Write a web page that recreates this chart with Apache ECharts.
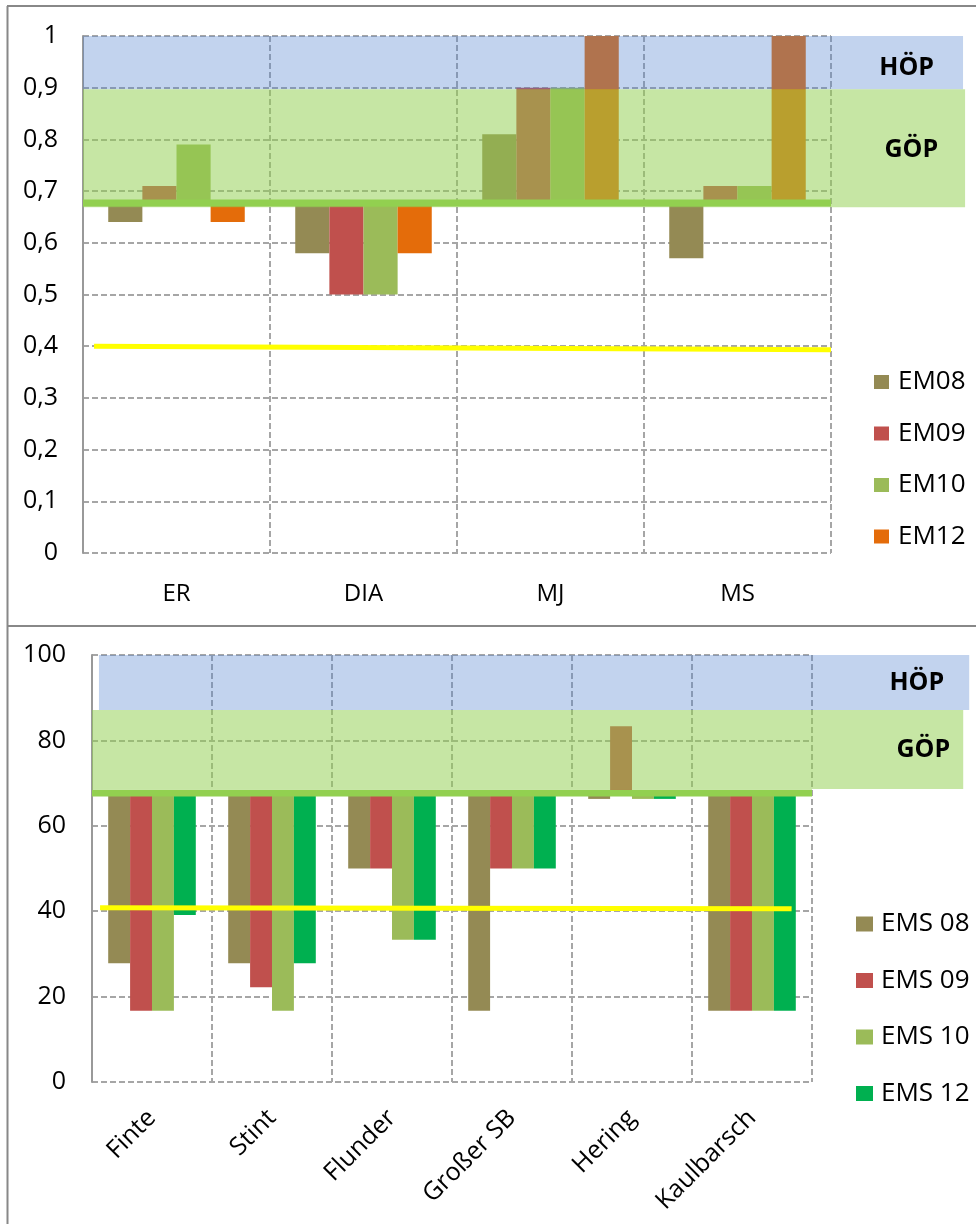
<!DOCTYPE html>
<html>
<head>
<meta charset="utf-8">
<script src="https://cdn.jsdelivr.net/npm/echarts@6/dist/echarts.min.js"></script>
<style>
html, body { margin: 0; padding: 0; background: #fff; }
#main { width: 976px; height: 1224px; }
</style>
</head>
<body>
<div id="main"></div>
<script>
// ---- upper chart data ----
var TOP_CATS = ['ER', 'DIA', 'MJ', 'MS'];
var TOP_NAMES = ['EM08', 'EM09', 'EM10', 'EM12'];
var TOP_EM08 = [0.64, 0.58, 0.81, 0.57];
var TOP_EM09 = [0.71, 0.50, 0.90, 0.71];
var TOP_EM10 = [0.79, 0.50, 0.90, 0.71];
var TOP_EM12 = [0.64, 0.58, 1.00, 1.00];
var TOP_BASE = 0.677;          // bars start from this level
var TOP_HOP = [0.897, 1.0];    // blue band
var TOP_GOP = [0.669, 0.897];  // green band
var TOP_YELLOW = [0.400, 0.393];

// ---- lower chart data ----
var BOT_CATS = ['Finte', 'Stint', 'Flunder', 'Großer SB', 'Hering', 'Kaulbarsch'];
var BOT_NAMES = ['EMS 08', 'EMS 09', 'EMS 10', 'EMS 12'];
var BOT_EMS08 = [27.8, 27.8, 50.0, 16.7, 66.3, 16.7];
var BOT_EMS09 = [16.7, 22.2, 50.0, 50.0, 83.3, 16.7];
var BOT_EMS10 = [16.7, 16.7, 33.3, 50.0, 66.3, 16.7];
var BOT_EMS12 = [39.1, 27.8, 33.3, 50.0, 66.3, 16.7];
var BOT_BASE = 67.7;
var BOT_HOP = [87.1, 100];
var BOT_GOP = [68.6, 87.1];
var BOT_YELLOW = [40.8, 40.6];

var TOP_COLORS = ['#948A54', '#C0504D', '#9BBB59', '#E46C0A'];
var BOT_COLORS = ['#948A54', '#C0504D', '#9BBB59', '#00B050'];
var FONT = 'Open Sans';
var GRIDLINE = { show: true, lineStyle: { color: '#A6A6A6', width: 2, type: [6, 3] } };

function barSeries(names, values, base, axisIdx, colors) {
    var out = [];
    for (var k = 0; k < names.length; k++) {
        var lo = values[k].map(function (v) { return Math.min(v, base); });
        var d = values[k].map(function (v) { return +Math.abs(v - base).toFixed(4); });
        out.push({
            type: 'bar', name: names[k] + ' base', stack: names[k],
            xAxisIndex: axisIdx, yAxisIndex: axisIdx, data: lo, silent: true,
            itemStyle: { color: 'rgba(0,0,0,0)' },
            barGap: '0%', barCategoryGap: '27%', z: 2
        });
        out.push({
            type: 'bar', name: names[k], stack: names[k],
            xAxisIndex: axisIdx, yAxisIndex: axisIdx, data: d,
            itemStyle: { color: colors[k] },
            barGap: '0%', barCategoryGap: '27%', z: 2
        });
    }
    return out;
}

function band(x0, x1, range, color, text, dist, dy) {
    return [
        { name: text, coord: [x0, range[1]], itemStyle: { color: color },
          label: { show: true, position: 'insideRight', distance: dist, offset: [0, dy],
                   formatter: text, fontFamily: FONT, fontSize: 25, fontWeight: 'bold', color: '#000' } },
        { coord: [x1, range[0]] }
    ];
}

function overlaySeries(axisIdx, bands, base, baseEnd, yellow) {
    return [{
        type: 'line', xAxisIndex: axisIdx, yAxisIndex: axisIdx, silent: true,
        data: [[0, base], [baseEnd, base]], symbol: 'none', z: 6,
        lineStyle: { color: '#92D050', width: 7 },
        markArea: { silent: true, z: 5, data: bands }
    }, {
        type: 'line', xAxisIndex: axisIdx, yAxisIndex: axisIdx, silent: true,
        data: yellow, symbol: 'none', z: 7,
        lineStyle: { color: '#FFFF00', width: 5 }
    }];
}

var yLabel = { color: '#000', fontFamily: FONT, fontSize: 25 };
var legendText = { color: '#000', fontFamily: FONT, fontSize: 26, lineHeight: 26 };

var option = {
    animation: false,
    backgroundColor: '#fff',
    textStyle: { fontFamily: FONT },
    grid: [
        { left: 83, right: 145, top: 36, bottom: 671 },
        { left: 83, right: 10.36, top: 36, bottom: 671 },
        { left: 92, right: 164, top: 655, bottom: 142 },
        { left: 92, right: 6.8, top: 655, bottom: 142 }
    ],
    xAxis: [
        { type: 'category', gridIndex: 0, data: TOP_CATS,
          axisLine: { show: false }, axisTick: { show: false },
          axisLabel: { color: '#000', fontFamily: FONT, fontSize: 24, margin: 29 },
          splitLine: { show: true, interval: 0, lineStyle: GRIDLINE.lineStyle } },
        { type: 'value', gridIndex: 1, min: 0, max: 4.72, show: false },
        { type: 'category', gridIndex: 2, data: BOT_CATS,
          axisLine: { show: false }, axisTick: { show: false },
          axisLabel: { color: '#000', fontFamily: FONT, fontSize: 25, margin: 32, rotate: 45, interval: 0 },
          splitLine: { show: true, interval: 0, lineStyle: GRIDLINE.lineStyle } },
        { type: 'value', gridIndex: 3, min: 0, max: 7.31, show: false }
    ],
    yAxis: [
        { type: 'value', gridIndex: 0, min: 0, max: 1, interval: 0.1,
          axisLine: { show: true, lineStyle: { color: '#999', width: 2 } }, axisTick: { show: false },
          axisLabel: Object.assign({ margin: 25, formatter: function (v) {
              return String(+v.toFixed(1)).replace('.', ',');
          } }, yLabel),
          splitLine: GRIDLINE },
        { type: 'value', gridIndex: 1, min: 0, max: 1, show: false },
        { type: 'value', gridIndex: 2, min: 0, max: 100, interval: 20,
          axisLine: { show: true, lineStyle: { color: '#999', width: 2 } }, axisTick: { show: false },
          axisLabel: Object.assign({ margin: 26 }, yLabel),
          splitLine: GRIDLINE },
        { type: 'value', gridIndex: 3, min: 0, max: 100, show: false }
    ],
    legend: [
        { data: TOP_NAMES, orient: 'vertical', left: 874, top: 369, padding: 0, icon: 'rect',
          itemWidth: 15, itemHeight: 14, itemGap: 25.5, selectedMode: false,
          textStyle: Object.assign({ padding: [0, 0, 0, 4] }, legendText) },
        { data: BOT_NAMES, orient: 'vertical', left: 856, top: 911, padding: 0, icon: 'rect',
          itemWidth: 17, itemHeight: 15, itemGap: 30.5, selectedMode: false,
          textStyle: Object.assign({ padding: [0, 0, 0, 3] }, legendText) }
    ],
    graphic: [
        { type: 'line', shape: { x1: 7.5, y1: 6, x2: 7.5, y2: 1224 }, style: { stroke: '#888', lineWidth: 2 } },
        { type: 'line', shape: { x1: 7, y1: 6, x2: 976, y2: 6 }, style: { stroke: '#888', lineWidth: 2 } },
        { type: 'line', shape: { x1: 7, y1: 626, x2: 976, y2: 626 }, style: { stroke: '#888', lineWidth: 2 } }
    ],
    series: []
};

option.series = option.series
    .concat(barSeries(TOP_NAMES, [TOP_EM08, TOP_EM09, TOP_EM10, TOP_EM12], TOP_BASE, 0, TOP_COLORS))
    .concat(overlaySeries(1, [
        band(0, 4.706, TOP_HOP, 'rgba(79,129,205,0.35)', 'HÖP', 29, 5),
        band(0, 4.717, TOP_GOP, 'rgba(146,208,80,0.52)', 'GÖP', 27, 2)
    ], TOP_BASE, 4, [[0.059, TOP_YELLOW[0]], [4, TOP_YELLOW[1]]]))
    .concat(barSeries(BOT_NAMES, [BOT_EMS08, BOT_EMS09, BOT_EMS10, BOT_EMS12], BOT_BASE, 2, BOT_COLORS))
    .concat(overlaySeries(3, [
        band(0.058, 7.31, BOT_HOP, 'rgba(79,129,205,0.35)', 'HÖP', 25, 0),
        band(0, 7.26, BOT_GOP, 'rgba(146,208,80,0.52)', 'GÖP', 13, 0)
    ], BOT_BASE, 6, [[0.067, BOT_YELLOW[0]], [5.83, BOT_YELLOW[1]]]));

var myChart = echarts.init(document.getElementById('main'));
myChart.setOption(option);
</script>
</body>
</html>
